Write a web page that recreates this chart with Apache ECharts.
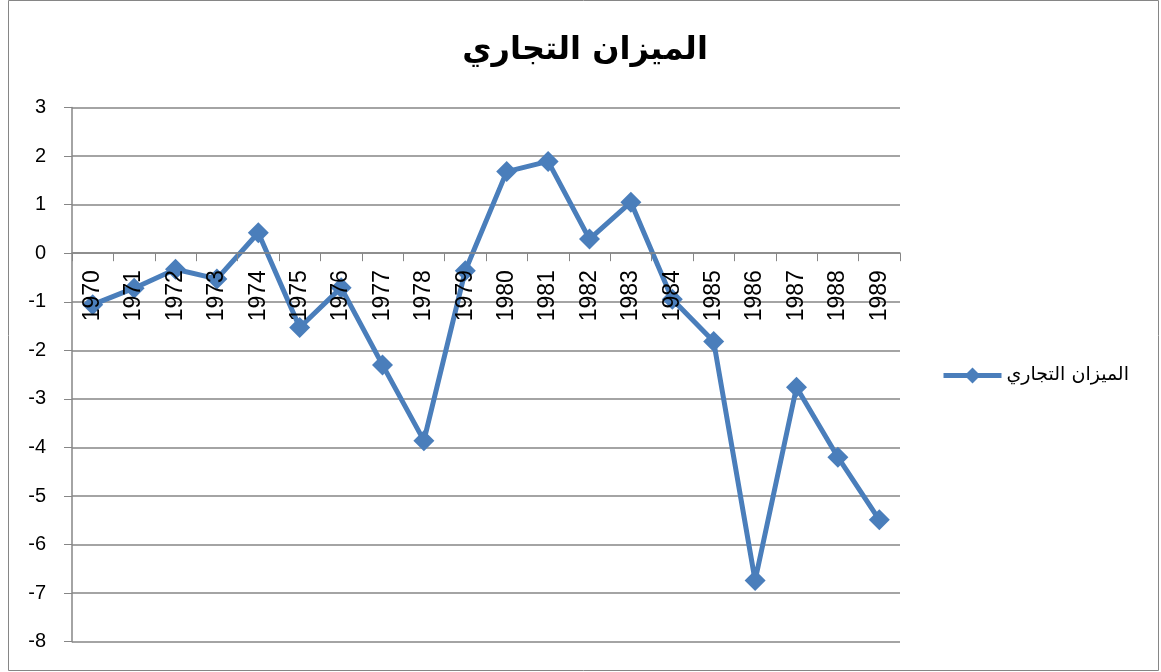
<!DOCTYPE html>
<html lang="ar">
<head>
    <meta charset="UTF-8">
    <title>الميزان التجاري</title>
    <script src="https://cdn.jsdelivr.net/npm/echarts@6/dist/echarts.min.js"></script>
    <style>
        html, body { margin: 0; padding: 0; background: #fff; }
        #chart { width: 1161px; height: 672px; }
    </style>
</head>
<body>
    <div id="chart"></div>

    <script>
        // السنوات
        const years = ['1970', '1971', '1972', '1973', '1974', '1975', '1976', '1977', '1978', '1979',
                       '1980', '1981', '1982', '1983', '1984', '1985', '1986', '1987', '1988', '1989'];
        // الميزان التجاري
        const balance = [-1.06, -0.72, -0.33, -0.53, 0.42, -1.53, -0.71, -2.3, -3.86, -0.36,
                         1.68, 1.89, 0.29, 1.05, -0.95, -1.82, -6.74, -2.76, -4.2, -5.49];
        const seriesName = 'الميزان التجاري';

        const chart = echarts.init(document.getElementById('chart'));
        const gray = '#868686';
        const blue = '#4a7ebb';
        const font = '"DejaVu Sans", Arial, sans-serif';
        const numFont = '"Liberation Sans", Arial, sans-serif';

        // grid edges, the category axis sits on the zero line
        const gridTop = 107.5, gridBottom = 641.7, yMin = -8, yMax = 3;
        const zeroOffset = (gridBottom - gridTop) * (0 - yMin) / (yMax - yMin);

        const option = {
            animation: false,
            title: {
                text: seriesName,
                left: 580,
                textAlign: 'center',
                top: 30,
                textStyle: { fontFamily: font, fontSize: 32, fontWeight: 'bold', color: '#000' }
            },
            legend: {
                left: 936,
                top: 361,
                itemWidth: 58,
                itemHeight: 20,
                itemGap: 4,
                lineStyle: { width: 5 },
                textStyle: { fontFamily: font, fontSize: 19, color: '#000' },
                data: [seriesName]
            },
            grid: { left: 72, right: 261, top: gridTop, bottom: 672 - gridBottom, outerBoundsMode: 'none', containLabel: false },
            xAxis: {
                type: 'category',
                data: years,
                position: 'bottom',
                offset: -zeroOffset,
                z: 5,
                axisLine: { onZero: false, lineStyle: { color: gray, width: 1.5 } },
                axisTick: { show: true, length: 8, lineStyle: { color: gray } },
                axisLabel: { rotate: 90, margin: 17, fontFamily: numFont, fontSize: 23, color: '#000' },
                splitLine: { show: false }
            },
            yAxis: {
                type: 'value',
                min: yMin,
                max: yMax,
                interval: 1,
                axisLine: { show: true, lineStyle: { color: gray, width: 1.5 } },
                axisTick: { show: true, length: 8, lineStyle: { color: gray } },
                axisLabel: { margin: 26, fontFamily: numFont, fontSize: 20, color: '#000' },
                splitLine: { lineStyle: { color: gray, width: 1.5 } }
            },
            series: [{
                name: seriesName,
                type: 'line',
                data: balance,
                symbol: 'diamond',
                symbolSize: 21,
                lineStyle: { color: blue, width: 5 },
                itemStyle: { color: blue }
            }],
            graphic: [{
                type: 'rect',
                shape: { x: 8.5, y: 0.5, width: 1150, height: 670 },
                style: { fill: 'none', stroke: gray, lineWidth: 1 },
                silent: true
            }]
        };

        chart.setOption(option);
    </script>
</body>
</html>
